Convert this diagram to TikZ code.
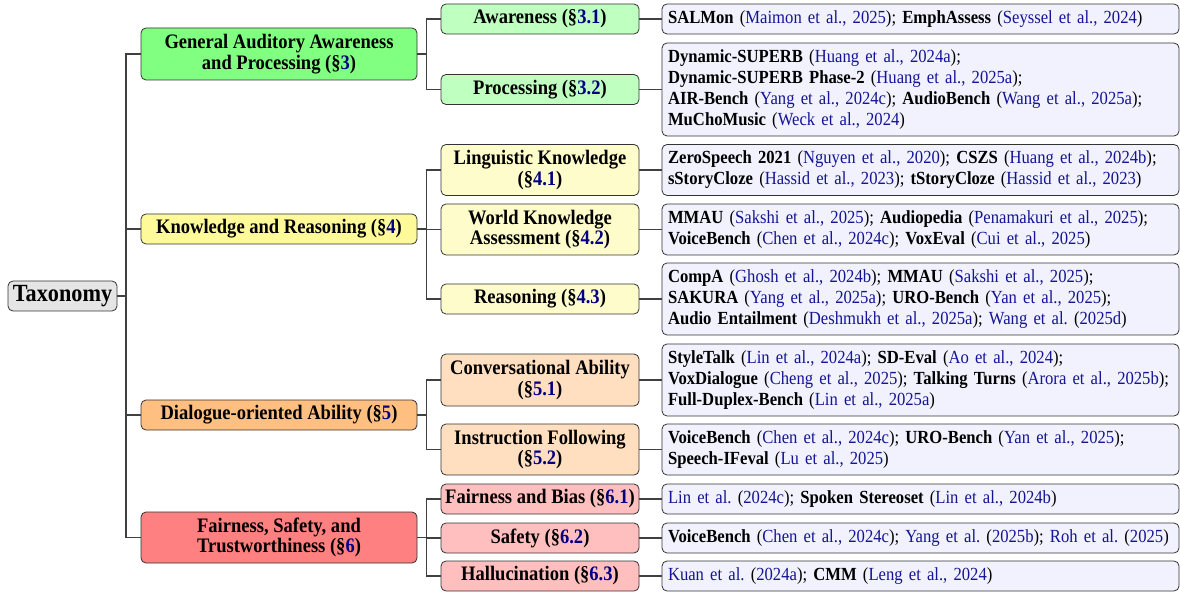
\documentclass[tikz,border=0pt]{standalone}
\usepackage{fontspec}
\setmainfont{Liberation Serif}[FakeStretch=0.9]
\usetikzlibrary{positioning}
\definecolor{secblue}{rgb}{0,0,0.5}
\definecolor{citeblue}{rgb}{0.08,0.08,0.58}
\newcommand{\sn}[1]{\textcolor{secblue}{#1}}
\newcommand{\ct}[1]{\textcolor{citeblue}{#1}}
\tikzset{
  base/.style={draw=black!80, line width=0.8pt, rounded corners=5pt, inner ysep=2pt,
    font=\fontsize{18.5}{21}\selectfont},
  rootbox/.style={base, fill=black!10, minimum width=109pt, minimum height=30pt, inner xsep=2pt,
    font=\fontsize{24.7}{26}\selectfont\bfseries},
  lvone/.style={base, minimum width=276pt, align=center, font=\fontsize{20.6}{20.5}\selectfont\bfseries},
  lvtwo/.style={base, minimum width=198pt, align=center, inner xsep=1pt, font=\fontsize{20.6}{20.5}\selectfont\bfseries},
  leaf/.style={base, fill=blue!5, minimum width=517pt, text width=505pt, inner xsep=6pt, align=left},
  conn/.style={draw=black!75, line width=1.1pt},
}
\begin{document}
\frenchspacing
\begin{tikzpicture}[x=1pt,y=-1pt]
\useasboundingbox (0,0) rectangle (1180,593);
% root
\node[rootbox] (root) at (62.5,296) {Taxonomy};
% level one
\node[lvone, fill=green!50, minimum height=52pt] (G) at (279,54) {General Auditory Awareness\\and Processing (§\sn{3})};
\node[lvone, fill=yellow!40, minimum height=30pt] (K) at (279,229) {Knowledge and Reasoning (§\sn{4})};
\node[lvone, fill=orange!50, minimum height=30pt] (D) at (279,415) {Dialogue-oriented Ability (§\sn{5})};
\node[lvone, fill=red!50, minimum height=51pt] (F) at (279,537.5) {Fairness, Safety, and\\Trustworthiness (§\sn{6})};
% level two
\node[lvtwo, fill=green!25, minimum height=30pt] (aw) at (540,19) {Awareness (§\sn{3.1})};
\node[lvtwo, fill=green!25, minimum height=30pt] (pr) at (540,89.5) {Processing (§\sn{3.2})};
\node[lvtwo, fill=yellow!20, minimum height=51pt] (li) at (540,170) {Linguistic Knowledge\\(§\sn{4.1})};
\node[lvtwo, fill=yellow!20, minimum height=51pt] (wo) at (540,229.5) {World Knowledge\\Assessment (§\sn{4.2})};
\node[lvtwo, fill=yellow!20, minimum height=30pt] (re) at (540,299) {Reasoning (§\sn{4.3})};
\node[lvtwo, fill=orange!25, minimum height=52pt] (co) at (540,380) {Conversational Ability\\(§\sn{5.1})};
\node[lvtwo, fill=orange!25, minimum height=51pt] (in) at (540,449.5) {Instruction Following\\(§\sn{5.2})};
\node[lvtwo, fill=red!25, minimum height=30pt] (fb) at (540,499) {Fairness and Bias (§\sn{6.1})};
\node[lvtwo, fill=red!25, minimum height=30pt] (sa) at (540,538) {Safety (§\sn{6.2})};
\node[lvtwo, fill=red!25, minimum height=30pt] (ha) at (540,576) {Hallucination (§\sn{6.3})};
% leaves
\node[leaf, minimum height=30pt] (awl) at (920.5,19) {\textbf{SALMon} (\ct{Maimon et al., 2025}); \textbf{EmphAssess} (\ct{Seyssel et al., 2024})};
\node[leaf, minimum height=93pt] (prl) at (920.5,89.5) {\textbf{Dynamic-SUPERB} (\ct{Huang et al., 2024a});\\
\textbf{Dynamic-SUPERB Phase-2} (\ct{Huang et al., 2025a});\\
\textbf{AIR-Bench} (\ct{Yang et al., 2024c}); \textbf{AudioBench} (\ct{Wang et al., 2025a});\\
\textbf{MuChoMusic} (\ct{Weck et al., 2024})};
\node[leaf, minimum height=51pt] (lil) at (920.5,170) {\textbf{ZeroSpeech 2021} (\ct{Nguyen et al., 2020}); \textbf{CSZS} (\ct{Huang et al., 2024b});\\
\textbf{sStoryCloze} (\ct{Hassid et al., 2023}); \textbf{tStoryCloze} (\ct{Hassid et al., 2023})};
\node[leaf, minimum height=51pt] (wol) at (920.5,229.5) {\textbf{MMAU} (\ct{Sakshi et al., 2025}); \textbf{Audiopedia} (\ct{Penamakuri et al., 2025});\\
\textbf{VoiceBench} (\ct{Chen et al., 2024c}); \textbf{VoxEval} (\ct{Cui et al., 2025})};
\node[leaf, minimum height=72pt] (rel) at (920.5,299) {\textbf{CompA} (\ct{Ghosh et al., 2024b}); \textbf{MMAU} (\ct{Sakshi et al., 2025});\\
\textbf{SAKURA} (\ct{Yang et al., 2025a}); \textbf{URO-Bench} (\ct{Yan et al., 2025});\\
\textbf{Audio Entailment} (\ct{Deshmukh et al., 2025a}); \ct{Wang et al.} (\ct{2025d})};
\node[leaf, minimum height=72pt] (col) at (920.5,380) {\textbf{StyleTalk} (\ct{Lin et al., 2024a}); \textbf{SD-Eval} (\ct{Ao et al., 2024});\\
\textbf{VoxDialogue} (\ct{Cheng et al., 2025}); \textbf{Talking Turns} (\ct{Arora et al., 2025b});\\
\textbf{Full-Duplex-Bench} (\ct{Lin et al., 2025a})};
\node[leaf, minimum height=51pt] (inl) at (920.5,449.5) {\textbf{VoiceBench} (\ct{Chen et al., 2024c}); \textbf{URO-Bench} (\ct{Yan et al., 2025});\\
\textbf{Speech-IFeval} (\ct{Lu et al., 2025})};
\node[leaf, minimum height=30pt] (fbl) at (920.5,499) {\ct{Lin et al.} (\ct{2024c}); \textbf{Spoken Stereoset} (\ct{Lin et al., 2024b})};
\node[leaf, minimum height=30pt] (sal) at (920.5,538) {\textbf{VoiceBench} (\ct{Chen et al., 2024c}); \ct{Yang et al.} (\ct{2025b}); \ct{Roh et al.} (\ct{2025})};
\node[leaf, minimum height=30pt] (hal) at (920.5,576) {\ct{Kuan et al.} (\ct{2024a}); \textbf{CMM} (\ct{Leng et al., 2024})};
% connectors: root to level one
\coordinate (t0) at (126,296);
\foreach \c in {G,K,D,F} \draw[conn] (root.east) -- (t0) |- (\c.west);
% level one to level two
\foreach \p/\c in {G/aw,G/pr,K/li,K/wo,K/re,D/co,D/in,F/fb,F/sa,F/ha}
  \draw[conn] (\p.east) -- ++(9,0) |- (\c.west);
% level two to leaves
\foreach \c in {aw,pr,li,wo,re,co,in,fb,sa,ha}
  \draw[conn] (\c.east) -- (\c l.west);
\end{tikzpicture}
\end{document}
